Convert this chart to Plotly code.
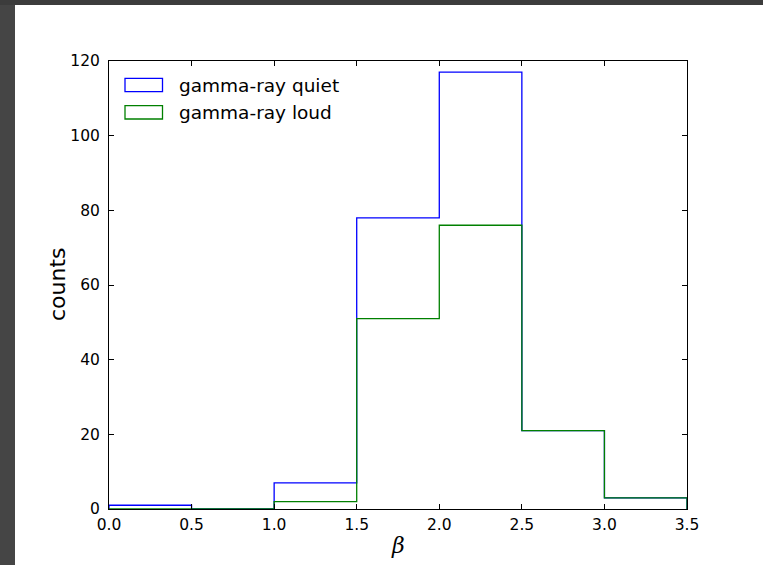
import plotly.graph_objects as go

# Histogram of the spectral index beta for two source classes
bin_edges = [0.0, 0.5, 1.0, 1.5, 2.0, 2.5, 3.0, 3.5]
quiet_counts = [1, 0, 7, 78, 117, 21, 3]
loud_counts = [0, 0, 2, 51, 76, 21, 3]
series_names = ["gamma-ray quiet", "gamma-ray loud"]
series_colors = ["#0000ff", "#008000"]
x_ticks = [0.0, 0.5, 1.0, 1.5, 2.0, 2.5, 3.0, 3.5]
y_ticks = [0, 20, 40, 60, 80, 100, 120]


def step_outline(edges, counts):
    """Open step outline of a histogram (histtype='step')."""
    xs, ys = [edges[0]], [0]
    for i, c in enumerate(counts):
        xs += [edges[i], edges[i + 1]]
        ys += [c, c]
    xs.append(edges[-1])
    ys.append(0)
    return xs, ys


W, H = 763, 565
ML, MR, MT, MB = 109, 76, 61, 56
PW, PH = W - ML - MR, H - MT - MB


def px_x(x):
    return (x - ML) / PW


def px_y(y):
    return (H - MB - y) / PH


fig = go.Figure()
for counts, name, color in zip([quiet_counts, loud_counts], series_names, series_colors):
    xs, ys = step_outline(bin_edges, counts)
    fig.add_trace(go.Scatter(x=xs, y=ys, mode="lines", name=name,
                             line=dict(color=color, width=1.3),
                             showlegend=False, hoverinfo="skip"))

font = "DejaVu Sans, sans-serif"
axis_common = dict(showline=True, linecolor="black", linewidth=1, mirror="ticks",
                   ticks="inside", ticklen=5, tickwidth=1, tickcolor="black",
                   showgrid=False, zeroline=False,
                   tickfont=dict(family=font, size=15.5, color="black"))

fig.update_xaxes(range=[bin_edges[0], bin_edges[-1]], tickvals=x_ticks,
                 ticktext=[f"{v:.1f}" for v in x_ticks], ticklabelstandoff=1,
                 **axis_common)
fig.update_yaxes(range=[0, 120], tickvals=y_ticks,
                 ticktext=[str(v) for v in y_ticks], ticklabelstandoff=5,
                 **axis_common)

shapes = [
    # dark frame strips around the figure canvas
    dict(type="rect", xref="paper", yref="paper", layer="above",
         x0=px_x(0), x1=px_x(15), y0=px_y(H), y1=px_y(0),
         fillcolor="#454545", line=dict(width=0)),
    dict(type="rect", xref="paper", yref="paper", layer="above",
         x0=px_x(0), x1=px_x(W), y0=px_y(5), y1=px_y(0),
         fillcolor="#3c3c3c", line=dict(width=0)),
]
annotations = []
# legend: outlined patches with labels
legend_rows = [(78.3, 91.7), (105.7, 119.0)]
for (top, bot), name, color in zip(legend_rows, series_names, series_colors):
    shapes.append(dict(type="rect", xref="paper", yref="paper",
                       x0=px_x(125), x1=px_x(162.5), y0=px_y(bot), y1=px_y(top),
                       fillcolor="white", line=dict(color=color, width=1.3)))
    annotations.append(dict(xref="paper", yref="paper", x=px_x(177), y=px_y((top + bot) / 2),
                            text=name, showarrow=False, xanchor="left", yanchor="middle",
                            font=dict(family=font, size=18.5, color="black")))

annotations.append(dict(xref="paper", yref="paper", x=px_x(57), y=px_y(284),
                        text="counts", textangle=-90, showarrow=False,
                        xanchor="center", yanchor="middle",
                        font=dict(family=font, size=22, color="black")))
annotations.append(dict(xref="paper", yref="paper", x=px_x(398), y=px_y(545),
                        text="<i>β</i>", showarrow=False,
                        xanchor="center", yanchor="middle",
                        font=dict(family="DejaVu Serif, serif", size=22, color="black")))

fig.update_layout(width=W, height=H,
                  margin=dict(l=ML, r=MR, t=MT, b=MB, pad=0),
                  paper_bgcolor="white", plot_bgcolor="white",
                  shapes=shapes, annotations=annotations, showlegend=False)

fig.write_html("out.html")
